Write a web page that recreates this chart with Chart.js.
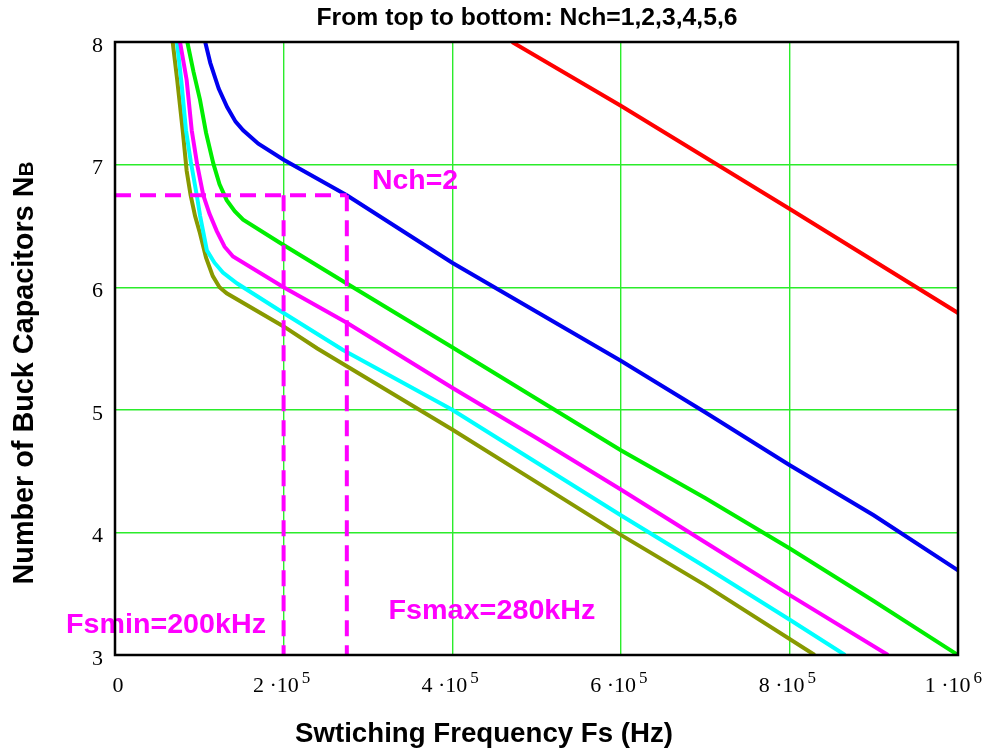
<!DOCTYPE html>
<html>
<head>
<meta charset="utf-8">
<script src="https://cdn.jsdelivr.net/npm/chart.js@4.4.0/dist/chart.umd.min.js"></script>
<style>
  html, body { margin: 0; padding: 0; background: #fff; }
</style>
</head>
<body>
<canvas id="capChart" width="984" height="751"></canvas>
<script>
// curves: frequency (Hz) vs number of buck caps, one pair per channel count
let nch1Freq = [471000, 600000, 800000, 1000000];
let nch1Cap  = [8.0, 7.48, 6.64, 5.79];

let nch2Freq = [107000, 113000, 123000, 133000, 143000, 152000, 170000, 200000, 275000, 400000, 500000, 600000, 700000, 800000, 900000, 1000000];
let nch2Cap  = [8.0, 7.83, 7.62, 7.47, 7.35, 7.28, 7.17, 7.04, 6.75, 6.20, 5.80, 5.40, 4.98, 4.55, 4.14, 3.69];

let nch3Freq = [85800, 93000, 100800, 108000, 116600, 124000, 132500, 142000, 152000, 196000, 270000, 400000, 500000, 600000, 700000, 800000, 900000, 1000000];
let nch3Cap  = [8.0, 7.76, 7.53, 7.26, 7.01, 6.84, 6.71, 6.62, 6.55, 6.36, 6.05, 5.51, 5.09, 4.67, 4.28, 3.87, 3.44, 3.0];

let nch4Freq = [77100, 85000, 91000, 97500, 104700, 112000, 120600, 130000, 140000, 200000, 275000, 400000, 500000, 600000, 700000, 800000, 917000];
let nch4Cap  = [8.0, 7.69, 7.28, 7.0, 6.75, 6.60, 6.46, 6.33, 6.25, 6.0, 5.71, 5.18, 4.77, 4.35, 3.92, 3.49, 3.0];

let nch5Freq = [73500, 79000, 84200, 90000, 97000, 101000, 109000, 118000, 128000, 145000, 200000, 270000, 400000, 500000, 600000, 700000, 800000, 866000];
let nch5Cap  = [8.0, 7.66, 7.28, 7.02, 6.75, 6.58, 6.30, 6.20, 6.12, 6.03, 5.79, 5.49, 5.0, 4.57, 4.14, 3.72, 3.29, 3.0];

let nch6Freq = [68400, 73800, 80300, 85000, 89700, 95000, 100800, 108000, 116000, 124000, 132500, 200000, 240000, 400000, 500000, 600000, 700000, 830000];
let nch6Cap  = [8.0, 7.69, 7.28, 6.95, 6.75, 6.58, 6.44, 6.24, 6.09, 6.0, 5.95, 5.68, 5.50, 4.84, 4.41, 3.98, 3.57, 3.0];

// dashed marker lines for the Nch=2 operating window
let markHFreq  = [0, 275000];
let markHCap   = [6.75, 6.75];
let markV1Freq = [200000, 200000];
let markV1Cap  = [6.75, 3.0];
let markV2Freq = [275000, 275000];
let markV2Cap  = [6.75, 3.0];

// ticks
let xTickValues   = [0, 200000, 400000, 600000, 800000, 1000000];
let xTickMantissa = ['0', '2', '4', '6', '8', '1'];
let xTickExponent = ['', '5', '5', '5', '5', '6'];
let yTickValues   = [3, 4, 5, 6, 7, 8];

function toPoints(xs, ys) {
    return xs.map((x, i) => ({ x: x, y: ys[i] }));
}

function curve(xs, ys, color) {
    return { data: toPoints(xs, ys), borderColor: color, borderWidth: 4, pointRadius: 0, tension: 0, order: 2 };
}

function marker(xs, ys) {
    return { data: toPoints(xs, ys), borderColor: '#ff00ff', borderWidth: 4, borderDash: [16, 9], pointRadius: 0, order: 1 };
}

// bold sans text squeezed/stretched to the width it has in the picture
function drawText(ctx, text, cx, cy, size, width, color) {
    ctx.save();
    ctx.translate(cx, cy);
    ctx.font = 'bold ' + size + 'px "Liberation Sans", Arial, sans-serif';
    let w = ctx.measureText(text).width;
    ctx.scale(width / w, 1);
    ctx.fillStyle = color;
    ctx.textAlign = 'center';
    ctx.textBaseline = 'middle';
    ctx.fillText(text, 0, 0);
    ctx.restore();
}

const overlay = {
    id: 'overlay',
    afterDatasetsDraw(chart) {
        const ctx = chart.ctx;
        const a = chart.chartArea;
        const xs = chart.scales.x;

        // magenta notes
        drawText(ctx, 'Nch=2', 415, 181, 28, 86, '#ff00ff');
        drawText(ctx, 'Fsmin=200kHz', 166, 626, 27, 200, '#ff00ff');
        drawText(ctx, 'Fsmax=280kHz', 492, 612, 27, 207, '#ff00ff');

        // frame
        ctx.save();
        ctx.strokeStyle = '#000';
        ctx.lineWidth = 2.5;
        ctx.strokeRect(a.left, a.top, a.right - a.left, a.bottom - a.top);
        ctx.restore();

        // x tick labels like "2 ·10^5"
        ctx.save();
        ctx.fillStyle = '#000';
        ctx.textBaseline = 'alphabetic';
        ctx.textAlign = 'left';
        xTickValues.forEach((v, i) => {
            let px = xs.getPixelForValue(v);
            let main = xTickExponent[i] ? xTickMantissa[i] + ' \u00b710' : xTickMantissa[i];
            ctx.font = '22px "Liberation Serif", "Times New Roman", serif';
            let w1 = ctx.measureText(main).width;
            ctx.font = '17px "Liberation Serif", "Times New Roman", serif';
            let w2 = xTickExponent[i] ? ctx.measureText(xTickExponent[i]).width + 3 : 0;
            let left = px - (w1 + w2) / 2 + (xTickExponent[i] ? -2 : 3);
            left = Math.min(left, 982 - w1 - w2);
            ctx.font = '22px "Liberation Serif", "Times New Roman", serif';
            ctx.fillText(main, left, 692);
            if (xTickExponent[i]) {
                ctx.font = '17px "Liberation Serif", "Times New Roman", serif';
                ctx.fillText(xTickExponent[i], left + w1 + 3, 683);
            }
        });
        ctx.restore();

        // titles
        drawText(ctx, 'From top to bottom: Nch=1,2,3,4,5,6', 527, 18, 24, 421, '#000');
        drawText(ctx, 'Swtiching Frequency Fs (Hz)', 484, 735, 27, 378, '#000');

        // y title, rotated, with a smaller B
        ctx.save();
        ctx.translate(33, 373);
        ctx.rotate(-Math.PI / 2);
        ctx.fillStyle = '#000';
        ctx.textBaseline = 'alphabetic';
        ctx.textAlign = 'left';
        let t1 = 'Number of Buck Capacitors N';
        let t2 = 'B';
        ctx.font = 'bold 29px "Liberation Sans", Arial, sans-serif';
        let m1 = ctx.measureText(t1).width;
        ctx.font = 'bold 21px "Liberation Sans", Arial, sans-serif';
        let m2 = ctx.measureText(t2).width;
        let sx = 423 / (m1 + m2);
        ctx.scale(sx, 1);
        let start = -(m1 + m2) / 2;
        ctx.font = 'bold 29px "Liberation Sans", Arial, sans-serif';
        ctx.fillText(t1, start, 0);
        ctx.font = 'bold 21px "Liberation Sans", Arial, sans-serif';
        ctx.fillText(t2, start + m1, 0);
        ctx.restore();
    }
};

function gridColor(edges) {
    return c => (edges.includes(c.tick.value) ? 'rgba(0,0,0,0)' : '#2bec2b');
}

new Chart(document.getElementById('capChart').getContext('2d'), {
    type: 'line',
    data: {
        datasets: [
            marker(markHFreq, markHCap),
            marker(markV1Freq, markV1Cap),
            marker(markV2Freq, markV2Cap),
            curve(nch1Freq, nch1Cap, '#ff0000'),
            curve(nch2Freq, nch2Cap, '#0000f0'),
            curve(nch3Freq, nch3Cap, '#00ee00'),
            curve(nch4Freq, nch4Cap, '#ff00ff'),
            curve(nch5Freq, nch5Cap, '#00ffff'),
            curve(nch6Freq, nch6Cap, '#889900')
        ]
    },
    options: {
        responsive: false,
        animation: false,
        layout: { padding: { top: 42, right: 26, left: 0, bottom: 0 } },
        plugins: {
            legend: { display: false },
            tooltip: { enabled: false },
            title: { display: false }
        },
        scales: {
            x: {
                type: 'linear',
                min: 0,
                max: 1000000,
                afterBuildTicks: s => { s.ticks = xTickValues.map(v => ({ value: v })); },
                afterFit: s => { s.height = 96; },
                ticks: { display: false },
                grid: { color: gridColor([0, 1000000]), lineWidth: 1.4, drawTicks: false },
                border: { display: false }
            },
            y: {
                type: 'linear',
                min: 3,
                max: 8,
                afterBuildTicks: s => { s.ticks = yTickValues.map(v => ({ value: v })); },
                afterFit: s => { s.width = 115; },
                ticks: {
                    color: '#000',
                    padding: 12,
                    labelOffset: 4,
                    font: { family: '"Liberation Serif", "Times New Roman", serif', size: 22 }
                },
                grid: { color: gridColor([3, 8]), lineWidth: 1.4, drawTicks: false },
                border: { display: false }
            }
        }
    },
    plugins: [overlay]
});
</script>
</body>
</html>
